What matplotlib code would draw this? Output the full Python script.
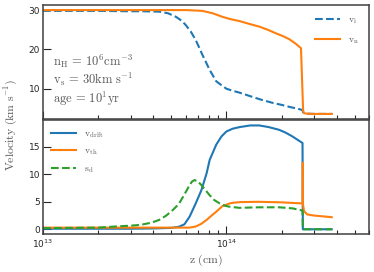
import numpy as np
import matplotlib.pyplot as plt
from matplotlib.font_manager import FontProperties
from matplotlib.ticker import LogLocator, NullFormatter

# z in units of 1e13 cm
z_i = [1, 2, 3, 3.5, 4.3, 4.8, 5.3, 5.7, 6.0, 6.4, 6.8, 7.1, 7.4, 7.8, 8.1, 8.5, 8.8, 9.4,
       10, 10.8, 11.8, 13.3, 15.5, 17.9, 20, 22, 24, 25.5, 26.0, 26.2, 27.6, 30, 37.5]
v_i = [29.8, 29.8, 29.7, 29.7, 29.6, 29.2, 28.3, 27.3, 26.2, 24.5, 22.4, 20.5, 18.6, 16.4, 14.8,
       13.1, 11.9, 10.9, 10.0, 9.5, 9.0, 8.2, 7.2, 6.4, 5.9, 5.4, 5.0, 4.7, 4.5, 4.0, 3.65, 3.6, 3.6]

z_n = [1, 3, 6, 7.4, 8.4, 9.5, 10.5, 11.8, 13.3, 15.1, 16.8, 18.6, 20.3, 22, 23.8, 25.5,
       26.2, 26.5, 27.6, 30, 37.6]
v_n = [30.0, 30.0, 30.0, 29.8, 29.2, 28.3, 27.7, 27.2, 26.5, 25.8, 25.0, 24.1, 23.4, 22.6, 21.5, 20.3,
       4.3, 3.8, 3.65, 3.6, 3.6]

z_drift = [1, 2, 3, 4, 5, 5.5, 5.9, 6.3, 6.8, 7.3, 7.8, 8.1, 8.8, 9.4, 10, 10.8, 11.8, 13.5,
           15.1, 17, 19.4, 21, 22.9, 26.0, 26.1, 30, 37.5]
v_drift = [0.1, 0.1, 0.1, 0.15, 0.25, 0.45, 0.9, 2.3, 4.7, 7.1, 10.2, 12.6, 15.4, 16.9, 17.8, 18.3,
           18.6, 18.9, 18.9, 18.6, 18.1, 17.6, 16.9, 15.7, 0.0, 0.0, 0.0]

z_th = [1, 3, 5, 6.3, 6.8, 7.3, 7.8, 8.3, 8.8, 9.5, 10.4, 11, 12, 15, 20, 26.0, 26.1, 26.15,
        26.5, 27.6, 30, 37.5]
v_th = [0.3, 0.3, 0.3, 0.3, 0.5, 1.0, 1.7, 2.5, 3.2, 4.2, 4.7, 4.85, 4.95, 5.0, 4.9, 4.7, 12.1, 4.5,
        3.3, 2.7, 2.5, 2.2]

z_sd = [1, 2, 2.6, 3.0, 3.4, 3.9, 4.3, 4.7, 5.1, 5.5, 5.8, 6.1, 6.3, 6.5, 6.7, 7.0, 7.3, 7.7,
        8.1, 8.6, 9.2, 9.8, 10.4, 11.8, 15, 19.4, 23, 26.0, 26.1, 30, 37.5]
s_d = [0.2, 0.3, 0.55, 0.65, 0.8, 1.2, 1.7, 2.5, 3.5, 4.6, 5.9, 7.2, 8.05, 8.7, 8.96, 8.7, 8.05, 7.1,
       6.2, 5.3, 4.7, 4.3, 4.1, 3.9, 4.0, 4.0, 3.8, 3.4, 0.0, 0.0, 0.0]


def cm(z):
    return np.array(z) * 1e13


mfont = dict(math_fontfamily="cm")
txtc = "0.35"

fig, (ax1, ax2) = plt.subplots(2, 1, sharex=True, figsize=(3.74, 2.72), dpi=100)
fig.subplots_adjust(left=0.115, right=0.987, bottom=0.138, top=0.982, hspace=0.01)

ax1.plot(cm(z_i), v_i, "--", color="#1f77b4", lw=1.5, label=r"$\rm v_i$")
ax1.plot(cm(z_n), v_n, "-", color="#ff7f0e", lw=1.5, label=r"$\rm v_n$")

ax2.plot(cm(z_drift), v_drift, "-", color="#1f77b4", lw=1.5, label=r"$\rm v_{drift}$")
ax2.plot(cm(z_th), v_th, "-", color="#ff7f0e", lw=1.5, label=r"$\rm v_{th}$")
ax2.plot(cm(z_sd), s_d, "--", color="#2ca02c", lw=1.5, label=r"$\rm s_d$")

ax1.set_xscale("log")
ax1.set_xlim(1e13, 6e14)
ax1.set_yticks([10, 20, 30])
ax2.set_yticks([0, 5, 10, 15])

for ax in (ax1, ax2):
    ax.tick_params(which="both", direction="in", labelsize=6.5, pad=2, colors="0.15")
    ax.tick_params(which="major", length=5.5, width=0.8)
    ax.tick_params(which="minor", length=3, width=0.8)
    ax.xaxis.set_minor_locator(LogLocator(base=10, subs=np.arange(2, 10)))
    ax.xaxis.set_minor_formatter(NullFormatter())
    for s in ax.spines.values():
        s.set_linewidth(1.1)
        s.set_color("0.25")

lp = FontProperties(size=7, math_fontfamily="cm")
leg1 = ax1.legend(loc="upper right", frameon=False, prop=lp, handlelength=2.6,
                  labelspacing=0.8, borderaxespad=0.6)
leg2 = ax2.legend(loc="upper left", frameon=False, prop=lp, handlelength=2.6,
                  labelspacing=0.6, borderaxespad=0.4)
for leg in (leg1, leg2):
    for t in leg.get_texts():
        t.set_color(txtc)

ax1.text(0.03, 0.47, r"$\rm n_H\,=\,10^6cm^{-3}$", transform=ax1.transAxes,
         fontsize=9, color=txtc, **mfont)
ax1.text(0.03, 0.31, r"$\rm v_s\,=\,30km\ s^{-1}$", transform=ax1.transAxes,
         fontsize=9, color=txtc, **mfont)
ax1.text(0.03, 0.145, r"$\rm age\,=\,10^1yr$", transform=ax1.transAxes,
         fontsize=9, color=txtc, **mfont)

ax2.set_xlabel(r"$\rm z\ (cm)$", fontsize=8.5, color=txtc, labelpad=2, **mfont)
fig.text(0.03, 0.54, r"$\rm Velocity\ (km\ s^{-1})$", rotation=90, ha="center", va="center",
         fontsize=8.5, color=txtc, **mfont)

fig.savefig("out.png", dpi=100)
